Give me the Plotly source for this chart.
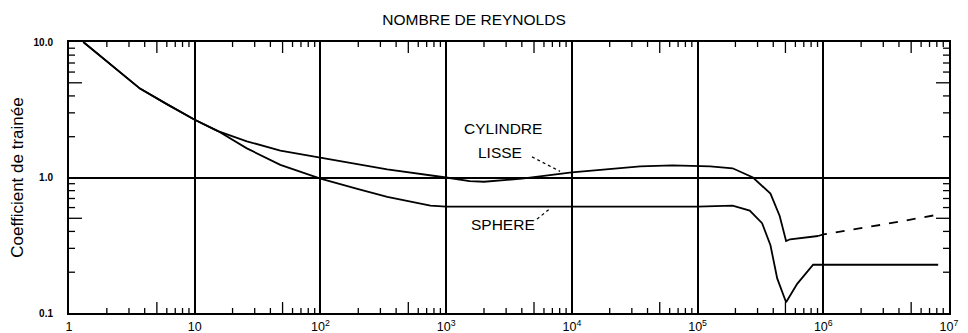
import math
import plotly.graph_objects as go

# ---- data ----
sphere_re = [1.3, 1.77, 2.6, 3.67, 6.0, 10, 15.3, 26, 48, 78, 100, 200, 340, 750, 1000,
             1e4, 1e5, 1.9e5, 2.6e5, 3.26e5, 3.8e5, 4.3e5, 5.06e5, 6.2e5, 8.3e5, 1e6, 8.2e6]
sphere_cd = [10, 7.9, 5.9, 4.53, 3.48, 2.67, 2.2, 1.64, 1.24, 1.06, 0.98, 0.82, 0.72, 0.62, 0.61,
             0.61, 0.61, 0.62, 0.57, 0.46, 0.316, 0.18, 0.12, 0.164, 0.227, 0.227, 0.227]

cyl_re = [1.3, 1.77, 2.6, 3.67, 6.0, 10, 15.3, 26, 48, 100, 340, 1000, 1540, 2000, 4000,
          1e4, 2e4, 3.5e4, 6.3e4, 1e5, 1.26e5, 1.9e5, 2.76e5, 3.8e5, 4.5e5, 5.06e5, 5.45e5, 9.1e5]
cyl_cd = [10, 7.9, 5.9, 4.53, 3.48, 2.67, 2.2, 1.85, 1.58, 1.40, 1.15, 1.0, 0.94, 0.93, 0.98,
          1.09, 1.16, 1.21, 1.23, 1.22, 1.21, 1.17, 1.0, 0.76, 0.52, 0.34, 0.35, 0.37]

cyl_ext_re = [9.1e5, 1e6, 3e6, 8e6]
cyl_ext_cd = [0.37, 0.38, 0.45, 0.53]

x_tickvals = [1, 10, 100, 1000, 1e4, 1e5, 1e6, 1e7]
x_ticktext = ["1", "10", "10<sup>2</sup>", "10<sup>3</sup>", "10<sup>4</sup>",
              "10<sup>5</sup>", "10<sup>6</sup>", "10<sup>7</sup>"]
y_tickvals = [0.1, 1, 10]
y_ticktext = ["0.1", "1.0", "10.0"]

title_text = "NOMBRE DE REYNOLDS"
ytitle_text = "Coefficient de trainée"

# curve labels: (text, Re, Cd) and their dotted leader lines ((Re0, Cd0), (Re1, Cd1))
labels = [("CYLINDRE", 2840, 2.29), ("LISSE", 2690, 1.54), ("SPHERE", 2840, 0.447)]
leaders = [((4820, 1.42), (8050, 1.11)), ((5280, 0.493), (6710, 0.59))]

# minor tick positions (derived from the decades)
x_minor = [m * 10 ** d for d in range(7) for m in (2, 3, 4, 6, 7, 8, 9)]
x_mid = [5 * 10 ** d for d in range(7)]
y_minor = [m * 10 ** d for d in (-1, 0) for m in (2, 3, 4, 6, 7, 8, 9)]
y_mid = [0.5, 5]

FONT = "Liberation Sans, Arial, sans-serif"
LW = 1.8

fig = go.Figure()
fig.add_trace(go.Scatter(x=sphere_re, y=sphere_cd, mode="lines",
                         line=dict(color="black", width=LW), hoverinfo="skip", showlegend=False))
fig.add_trace(go.Scatter(x=cyl_re, y=cyl_cd, mode="lines",
                         line=dict(color="black", width=LW), hoverinfo="skip", showlegend=False))
fig.add_trace(go.Scatter(x=cyl_ext_re, y=cyl_ext_cd, mode="lines",
                         line=dict(color="black", width=LW, dash="dash"),
                         hoverinfo="skip", showlegend=False))

# page is 968x333 but the HTML body adds an 8px margin, so the figure is offset by 8px
OFF = 8
PL, PR, PT, PB = 69, 949, 42, 313          # plot-area edges on the page
W, H = 968 - OFF, 333 - OFF
L, R, T, B = PL - OFF, 968 - PR, PT - OFF, 333 - PB

common = dict(type="log", showline=True, linecolor="black", linewidth=2, zeroline=False,
              automargin=False, mirror=True, showgrid=True, gridcolor="black",
              gridwidth=1.6, ticks="", tickmode="array")

fig.update_layout(
    template="none",
    width=W, height=H,
    margin=dict(l=L, r=R, t=T, b=B),
    plot_bgcolor="white", paper_bgcolor="white",
    font=dict(family=FONT, color="black"),
    title=dict(text=title_text, x=(474 - OFF) / W, xref="container", xanchor="center",
               y=1 - (20 - OFF) / H, yref="container", yanchor="middle",
               font=dict(size=15.5, family=FONT)),
    xaxis=dict(common, range=[0, 7], tickvals=x_tickvals, ticktext=x_ticktext,
               tickfont=dict(size=12.5, family=FONT), ticklabelstandoff=1),
    yaxis=dict(common, range=[-1, 1], tickvals=y_tickvals, ticktext=y_ticktext,
               tickfont=dict(size=10, family="Liberation Sans, Arial", weight="bold"),
               ticklabelstandoff=12,
               title=dict(text=ytitle_text, font=dict(size=17, family=FONT), standoff=6)),
)

# inside tick marks on all four sides (short minor ticks, longer at 5)
tick_line = dict(color="black", width=1.3)
for vals, ln in ((x_minor, 5), (x_mid, 11)):
    for v in vals:
        for anchor, sgn in ((0, 1), (1, -1)):
            fig.add_shape(type="line", xref="x", yref="paper", ysizemode="pixel",
                          yanchor=anchor, x0=v, x1=v, y0=0, y1=sgn * ln, line=tick_line,
                          layer="above")
for vals, ln in ((y_minor, 6), (y_mid, 13)):
    for v in vals:
        for anchor, sgn in ((0, 1), (1, -1)):
            fig.add_shape(type="line", yref="y", xref="paper", xsizemode="pixel",
                          xanchor=anchor, y0=v, y1=v, x0=0, x1=sgn * ln, line=tick_line,
                          layer="above")

ann_font = dict(size=15.5, family=FONT, color="black")
for text, rx, cy in labels:
    fig.add_annotation(text=text, xref="x", yref="y", x=math.log10(rx), y=math.log10(cy),
                       showarrow=False, font=ann_font)

for (r0, c0), (r1, c1) in leaders:
    fig.add_shape(type="line", xref="x", yref="y", x0=r0, y0=c0, x1=r1, y1=c1,
                  line=dict(color="black", width=1.2, dash="dot"))

fig.write_html("out.html")
